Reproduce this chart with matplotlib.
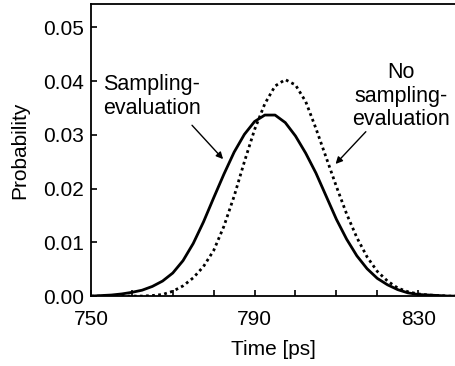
import numpy as np
import matplotlib
matplotlib.use("Agg")
import matplotlib.pyplot as plt

plt.rcParams['font.family'] = ['Liberation Sans', 'DejaVu Sans']

# time axis in ps (2.5 ps steps)
time_ps = np.arange(750, 840.1, 2.5)

# probability curves
sampling_eval = [0.0000, 0.0001, 0.0002, 0.0004, 0.0007, 0.0011, 0.0018, 0.0028,
                 0.0043, 0.0066, 0.0098, 0.0138, 0.0183, 0.0227, 0.0268, 0.0301,
                 0.0325, 0.0337, 0.0337, 0.0323, 0.0298, 0.0266, 0.0229, 0.0186,
                 0.0143, 0.0106, 0.0075, 0.0051, 0.0033, 0.0021, 0.0012, 0.0006,
                 0.0003, 0.0002, 0.0001, 0.0000, 0.0000]
no_sampling_eval = [0.0000, 0.0000, 0.0000, 0.0000, 0.0000, 0.0000, 0.0001, 0.0003,
                    0.0009, 0.0019, 0.0034, 0.0055, 0.0085, 0.0130, 0.0186, 0.0250,
                    0.0310, 0.0358, 0.0391, 0.0403, 0.0393, 0.0362, 0.0312, 0.0258,
                    0.0204, 0.0153, 0.0109, 0.0073, 0.0046, 0.0028, 0.0015, 0.0008,
                    0.0004, 0.0002, 0.0001, 0.0000, 0.0000]

fig = plt.figure(figsize=(4.55, 3.66), dpi=100)
ax = fig.add_axes([0.2, 0.191, 0.8, 0.797])

ax.plot(time_ps, sampling_eval, color='black', lw=2.0, solid_joinstyle='round')
ax.plot(time_ps, no_sampling_eval, color='black', lw=2.0, linestyle=(0, (1, 1.2)))

ax.set_xlim(750, 839)
ax.set_ylim(0, 0.0543)
ax.set_xticks([750, 790, 830])
ax.set_xticks(np.arange(760, 830, 10), minor=True)
ax.set_yticks([0.0, 0.01, 0.02, 0.03, 0.04, 0.05])
ax.set_yticklabels(['0.00', '0.01', '0.02', '0.03', '0.04', '0.05'])
ax.tick_params(axis='both', which='both', direction='in', length=4, width=1.2,
               labelsize=15, pad=5)
ax.tick_params(axis='x', pad=10)
ax.spines['right'].set_visible(False)
for s in ['left', 'top', 'bottom']:
    ax.spines[s].set_linewidth(1.3)

ax.set_xlabel('Time [ps]', fontsize=15, labelpad=8)
ax.set_ylabel('Probability', fontsize=15, labelpad=10)

ax.text(752.9, 0.0413, 'Sampling-\nevaluation', fontsize=15.5, ha='left', va='top',
        linespacing=1.2)
ax.text(825.7, 0.0435, 'No\nsampling-\nevaluation', fontsize=15.5, ha='center', va='top',
        linespacing=1.15)

ax.annotate('', xy=(782.3, 0.0255), xytext=(774.7, 0.0318),
            arrowprops=dict(arrowstyle='-|>', color='black', lw=1.0,
                            mutation_scale=10, shrinkA=0, shrinkB=0))
ax.annotate('', xy=(809.8, 0.0246), xytext=(817.2, 0.0306),
            arrowprops=dict(arrowstyle='-|>', color='black', lw=1.0,
                            mutation_scale=10, shrinkA=0, shrinkB=0))

fig.savefig('out.png', dpi=100)
